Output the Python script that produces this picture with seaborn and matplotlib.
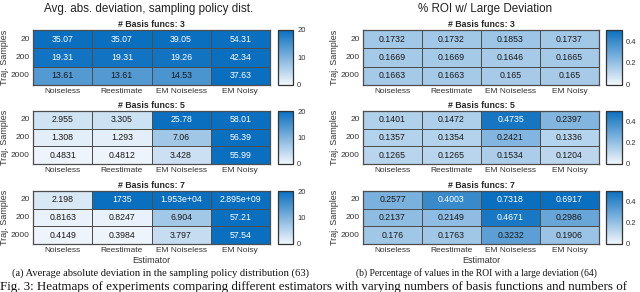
import numpy as np
import pandas as pd
import matplotlib
matplotlib.use("Agg")
import matplotlib.pyplot as plt
from matplotlib.colors import LinearSegmentedColormap
import seaborn as sns

estimators = ["Noiseless", "Reestimate", "EM Noiseless", "EM Noisy"]
samples = ["20", "200", "2000"]
basis = [3, 5, 7]

dev_b3 = [[35.07, 35.07, 39.05, 54.31], [19.31, 19.31, 19.26, 42.34], [13.61, 13.61, 14.53, 37.63]]
dev_b5 = [[2.955, 3.305, 25.78, 58.01], [1.308, 1.293, 7.06, 56.39], [0.4831, 0.4812, 3.428, 55.99]]
dev_b7 = [[2.198, 1735, 1.953e4, 2.895e9], [0.8163, 0.8247, 6.904, 57.21], [0.4149, 0.3984, 3.797, 57.54]]

roi_b3 = [[0.1732, 0.1732, 0.1853, 0.1737], [0.1669, 0.1669, 0.1646, 0.1665], [0.1663, 0.1663, 0.165, 0.165]]
roi_b5 = [[0.1401, 0.1472, 0.4735, 0.2397], [0.1357, 0.1354, 0.2421, 0.1336], [0.1265, 0.1265, 0.1534, 0.1204]]
roi_b7 = [[0.2577, 0.4003, 0.7318, 0.6917], [0.2137, 0.2149, 0.4671, 0.2986], [0.176, 0.1763, 0.3232, 0.1906]]

sns.set_theme(style="white")
plt.rcParams['font.family'] = ['Liberation Sans', 'DejaVu Sans']

W, H = 640, 292
fig = plt.figure(figsize=(W / 100, H / 100), dpi=100)

cmap = LinearSegmentedColormap.from_list("mblue", ["#f2f7fc", "#0a6fbf"])

def px_axes(x0, y0, x1, y1):
    return fig.add_axes([x0 / W, 1 - y1 / H, (x1 - x0) / W, (y1 - y0) / H])

rows_y = [(30, 85), (111, 164), (191, 244)]
panels = [
    dict(data=[dev_b3, dev_b5, dev_b7], vmax=20, ticks=[0, 10, 20], tlabels=["0", "10", "20"],
         hx=(33, 270), cx=(278, 293)),
    dict(data=[roi_b3, roi_b5, roi_b7], vmax=0.5, ticks=[0, 0.2, 0.4], tlabels=["0", "0.2", "0.4"],
         hx=(363, 599), cx=(606, 622)),
]

grid_col = "#4d4d4d"
for p in panels:
    for k, (arr, (y0, y1)) in enumerate(zip(p["data"], rows_y)):
        ax = px_axes(p["hx"][0], y0, p["hx"][1], y1)
        cax = px_axes(p["cx"][0], y0, p["cx"][1], y1)
        df = pd.DataFrame(arr, index=samples, columns=estimators)
        labels = np.array([["{:.4g}".format(v) for v in row] for row in arr])
        sns.heatmap(df, ax=ax, cbar_ax=cax, cmap=cmap, vmin=0, vmax=p["vmax"],
                    annot=labels, fmt="", annot_kws=dict(fontsize=6.3),
                    linewidths=0.7, linecolor=grid_col,
                    xticklabels=True, yticklabels=True)
        vals = np.array(arr).ravel()
        for t, v in zip(ax.texts, vals):
            frac = min(v / p["vmax"], 1.0)
            t.set_color("white" if frac > 0.77 else "#1a1a1a")
        for s in ax.spines.values():
            s.set_visible(True)
            s.set_color(grid_col)
            s.set_linewidth(0.9)
        ax.set_title("# Basis funcs: %d" % basis[k], fontsize=6.3, fontweight="bold", pad=2.0)
        ax.set_xlabel("Estimator" if k == 2 else "", fontsize=6.5, labelpad=1, color="#333333")
        ax.set_ylabel("Traj. Samples", fontsize=6.5, labelpad=1.5, color="#333333")
        ax.tick_params(axis="both", length=0, labelsize=6.0, pad=2.5, colors="#333333")
        ax.tick_params(axis="y", rotation=0)
        ax.tick_params(axis="x", rotation=0)
        cb = ax.collections[0].colorbar
        cb.set_ticks(p["ticks"])
        cb.set_ticklabels(p["tlabels"])
        cb.ax.tick_params(labelsize=5.5, length=2, width=0.5, direction="in", pad=3, colors="#333333")
        cb.outline.set_visible(True)
        cb.outline.set_edgecolor("#333333")
        cb.outline.set_linewidth(0.9)

fig.text(149 / W, 1 - 9 / H, "Avg. abs. deviation, sampling policy dist.", ha="center", va="center",
         fontsize=8.4, color="#222222")
fig.text(485 / W, 1 - 9 / H, "% ROI w/ Large Deviation", ha="center", va="center",
         fontsize=8.4, color="#222222")

serif = ['Liberation Serif', 'DejaVu Serif']
fig.text(160 / W, 1 - 273 / H, "(a) Average absolute deviation in the sampling policy distribution (63)",
         ha="center", va="center", fontsize=7.6, family=serif, color="#111111")
fig.text(476 / W, 1 - 273 / H, "(b) Percentage of values in the ROI with a large deviation (64)",
         ha="center", va="center", fontsize=6.9, family=serif, color="#111111")
fig.text(0 / W, 1 - 287 / H,
         "Fig. 3: Heatmaps of experiments comparing different estimators with varying numbers of basis functions and numbers of",
         ha="left", va="center", fontsize=9.4, family=serif, color="#111111")

fig.savefig("out.png", dpi=100)
